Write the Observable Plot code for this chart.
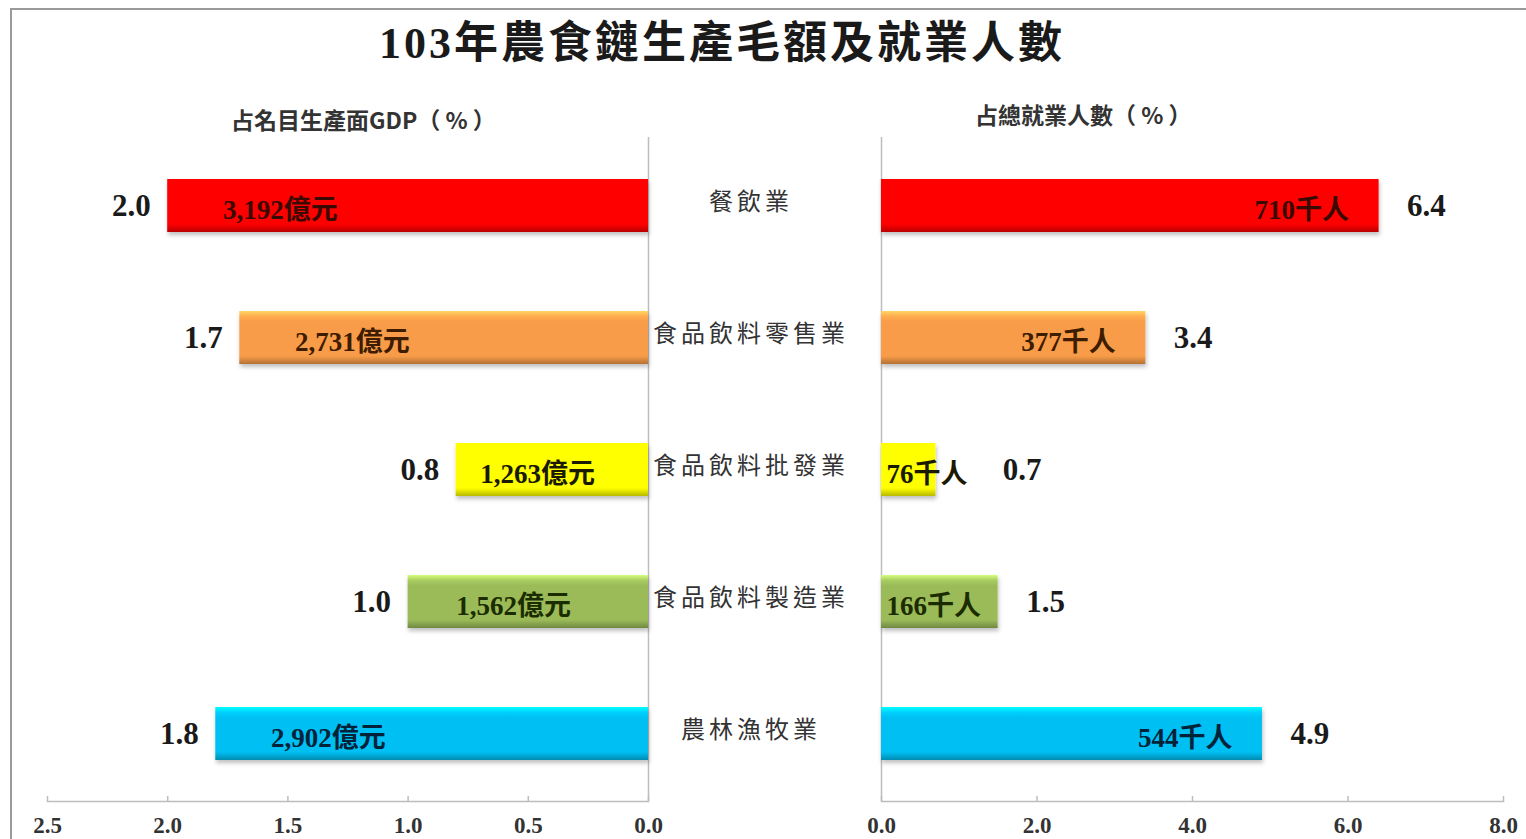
<!DOCTYPE html>
<html>
<head>
<meta charset="utf-8">
<script src="https://cdn.jsdelivr.net/npm/d3@7"></script>
<script src="https://cdn.jsdelivr.net/npm/@observablehq/plot@0.6"></script>
<style>
  html, body { margin: 0; padding: 0; background: #fff; }
  #wrap { position: relative; width: 1526px; height: 839px; overflow: hidden; background: #fff;
          font-family: "Liberation Serif", "Noto Sans CJK TC", serif; }
  .abs { position: absolute; }
  #frame { left: 10px; top: 8px; width: 1530px; height: 900px; border-left: 2px solid #9a9a9a; border-top: 2px solid #9a9a9a; }
  #title { left: 0; width: 1444px; top: 22px; line-height: 1; text-align: center; font-size: 44px; font-weight: bold; color: #1a1a1a;
           font-family: "Liberation Serif", "Noto Sans CJK TC", serif; letter-spacing: 3px; }
  .sub { font-size: 23px; line-height: 1; font-weight: bold; color: #333; font-family: "Noto Sans CJK TC", sans-serif; white-space: pre; }
  #subL { left: 231px; top: 108px; }
  #subR { left: 975px; top: 103px; }
</style>
</head>
<body>
<div id="wrap">
  <div id="frame" class="abs"></div>
  <div id="title" class="abs">103年農食鏈生產毛額及就業人數</div>
  <div id="subL" class="abs sub">占名目生產面GDP（ % ）</div>
  <div id="subR" class="abs sub">占總就業人數（ % ）</div>
  <div id="left" class="abs" style="left:0;top:0"></div>
  <div id="center" class="abs" style="left:648px;top:0"></div>
  <div id="right" class="abs" style="left:760px;top:0"></div>
</div>
<script>
// ---- data ----
const industries = ["餐飲業", "食品飲料零售業", "食品飲料批發業", "食品飲料製造業", "農林漁牧業"];
const gdpShare = [2.0, 1.7, 0.8, 1.0, 1.8];          // 占名目生產面GDP (%)
const gdpValue = ["3,192億元", "2,731億元", "1,263億元", "1,562億元", "2,902億元"];
const empShare = [6.4, 3.4, 0.7, 1.5, 4.9];          // 占總就業人數 (%)
const empValue = ["710千人", "377千人", "76千人", "166千人", "544千人"];
const leftTicks = [2.5, 2.0, 1.5, 1.0, 0.5, 0.0];
const rightTicks = [0, 2, 4, 6, 8];
const barColors = ["#ff0000", "#f89c48", "#ffff00", "#9bbb59", "#00bff3"];
const labelColors = ["#3a0a00", "#3d1c00", "#1a1a00", "#1b2d00", "#00233a"];

const rows = industries.map((name, i) => ({
  name, i, gdp: gdpShare[i], gdpText: gdpValue[i], emp: empShare[i], empText: empValue[i]
}));

const H = 839, MT = 137, MB = 38;
const yScale = {domain: industries, paddingInner: 0.6, paddingOuter: 0.3, axis: null};
const serif = "'Liberation Serif', 'Noto Sans CJK TC', serif";

function addGradients(svg) {
  const ns = "http://www.w3.org/2000/svg";
  const defs = document.createElementNS(ns, "defs");
  barColors.forEach((c, i) => {
    const base = d3.color(c);
    const g = document.createElementNS(ns, "linearGradient");
    g.setAttribute("id", "grad" + i + svg.dataset.side);
    g.setAttribute("x1", "0"); g.setAttribute("y1", "0"); g.setAttribute("x2", "0"); g.setAttribute("y2", "1");
    const stops = [[0, base.brighter(0.9)], [0.1, base.brighter(0.25)], [0.2, base], [0.85, base], [1, base.darker(0.9)]];
    stops.forEach(([o, col]) => {
      const s = document.createElementNS(ns, "stop");
      s.setAttribute("offset", o);
      s.setAttribute("stop-color", col.formatHex());
      g.appendChild(s);
    });
    defs.appendChild(g);
  });
  const f = document.createElementNS(ns, "filter");
  f.setAttribute("id", "shadow" + svg.dataset.side);
  f.setAttribute("x", "-5%"); f.setAttribute("y", "-20%"); f.setAttribute("width", "110%"); f.setAttribute("height", "150%");
  f.innerHTML = '<feDropShadow dx="1" dy="3" stdDeviation="2" flood-color="#000" flood-opacity="0.25"/>';
  defs.appendChild(f);
  svg.insertBefore(defs, svg.firstChild);
}

const shadowed = side => (idx, s, v, dim, ctx, next) => {
  const g = next(idx, s, v, dim, ctx);
  g.setAttribute("filter", `url(#shadow${side})`);
  return g;
};

// ---- left panel ----
const left = Plot.plot({
  width: 700, height: H,
  marginLeft: 47, marginRight: 52, marginTop: MT, marginBottom: MB,
  x: {domain: [0, 2.5], reverse: true, axis: null, label: null},
  y: yScale,
  style: {fontFamily: serif, background: "transparent", overflow: "visible"},
  marks: [
    Plot.ruleX([0], {stroke: "#bdbdbd", strokeWidth: 1.5}),
    Plot.frame({anchor: "bottom", stroke: "#bdbdbd", strokeWidth: 1.5}),
    Plot.tickX(leftTicks, {x: d => d, insetTop: 659, stroke: "#bdbdbd", strokeWidth: 1.5}),
    Plot.axisX(leftTicks, {tickSize: 0, tickPadding: 15, fontSize: 23, fontWeight: "bold", fill: "#333",
      tickFormat: d => d.toFixed(1), anchor: "bottom", label: null}),
    Plot.barX(rows, {x1: 0, x2: "gdp", y: "name", fill: d => `url(#grad${d.i}L)`, render: shadowed("L")}),
    Plot.text(rows, {x: d => d.gdp - Math.min(0.23, (d.gdp - 0.6) * 0.5), y: "name", text: "gdpText",
      textAnchor: "start", fontSize: 27, fontWeight: "bold", fill: d => labelColors[d.i], dy: 4}),
    Plot.text(rows, {x: "gdp", y: "name", text: d => d.gdp.toFixed(1), textAnchor: "end", dx: -17,
      fontSize: 31, fontWeight: "bold", fill: "#1a1a1a"})
  ]
});
left.dataset.side = "L";
addGradients(left);
document.getElementById("left").appendChild(left);

// ---- center labels ----
const center = Plot.plot({
  width: 233, height: H,
  marginLeft: 0, marginRight: 0, marginTop: MT, marginBottom: MB,
  x: {axis: null},
  y: yScale,
  style: {fontFamily: "'Noto Sans CJK TC', sans-serif", background: "transparent", overflow: "visible"},
  marks: [
    Plot.text(rows, {y: "name", text: "name", frameAnchor: "middle", dx: -14, dy: -3,
      fontSize: 24, fill: "#333"})
  ]
});
center.querySelectorAll("text").forEach(t => t.style.letterSpacing = "4px");
document.getElementById("center").appendChild(center);

// ---- right panel ----
const right = Plot.plot({
  width: 766, height: H,
  marginLeft: 121, marginRight: 23, marginTop: MT, marginBottom: MB,
  x: {domain: [0, 8], axis: null, label: null},
  y: yScale,
  style: {fontFamily: serif, background: "transparent", overflow: "visible"},
  marks: [
    Plot.ruleX([0], {stroke: "#bdbdbd", strokeWidth: 1.5}),
    Plot.frame({anchor: "bottom", stroke: "#bdbdbd", strokeWidth: 1.5}),
    Plot.tickX(rightTicks, {x: d => d, insetTop: 659, stroke: "#bdbdbd", strokeWidth: 1.5}),
    Plot.axisX(rightTicks, {tickSize: 0, tickPadding: 15, fontSize: 23, fontWeight: "bold", fill: "#333",
      tickFormat: d => d.toFixed(1), anchor: "bottom", label: null}),
    Plot.barX(rows, {x1: 0, x2: "emp", y: "name", fill: d => `url(#grad${d.i}R)`, render: shadowed("R")}),
    Plot.text(rows.filter(d => d.emp >= 3), {x: "emp", y: "name", text: "empText", textAnchor: "end", dx: -30,
      fontSize: 27, fontWeight: "bold", fill: d => labelColors[d.i], dy: 4}),
    Plot.text(rows.filter(d => d.emp < 3), {x: 0, y: "name", text: "empText", textAnchor: "start", dx: 5,
      fontSize: 27, fontWeight: "bold", fill: d => labelColors[d.i], dy: 4}),
    Plot.text(rows, {x: d => Math.max(d.emp, 1.2), y: "name", text: d => d.emp.toFixed(1), textAnchor: "start", dx: 28,
      fontSize: 31, fontWeight: "bold", fill: "#1a1a1a"})
  ]
});
right.dataset.side = "R";
addGradients(right);
document.getElementById("right").appendChild(right);
</script>
</body>
</html>
